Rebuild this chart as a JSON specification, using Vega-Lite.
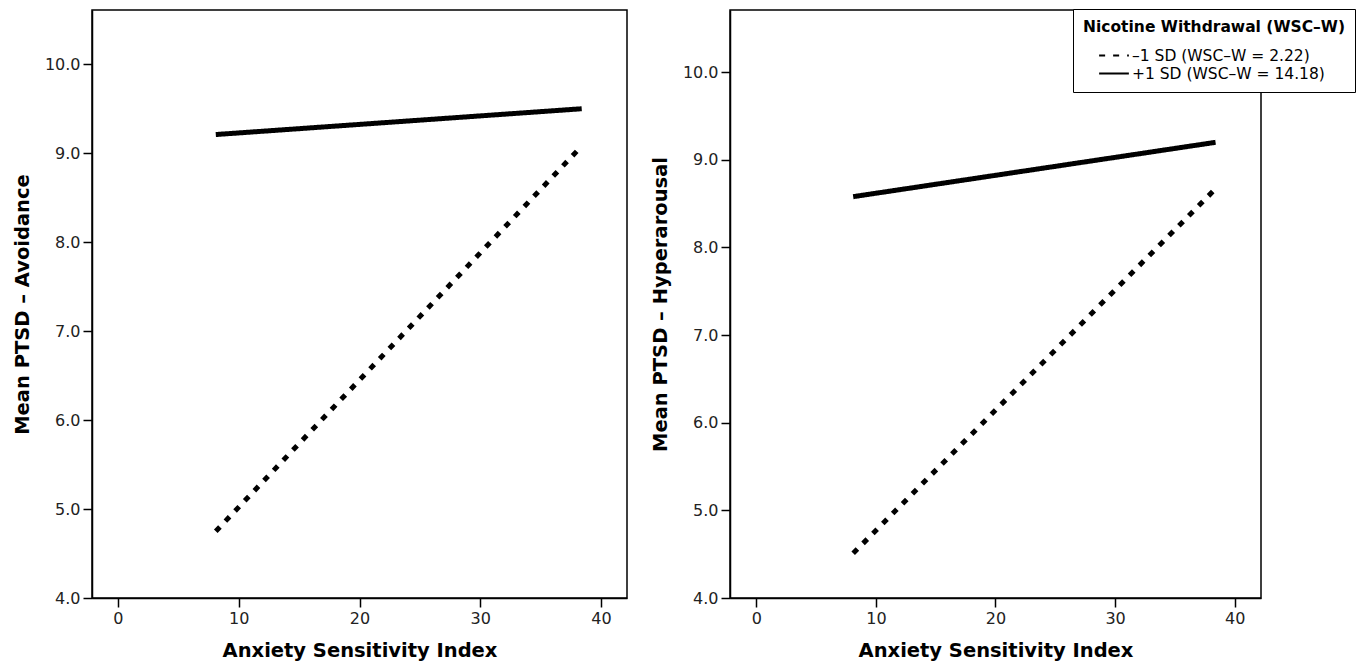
{
  "$schema": "https://vega.github.io/schema/vega-lite/v6.json",
  "padding": {"left": 11, "top": 7, "right": 10, "bottom": 4},
  "config": {
    "font": "DejaVu Sans",
    "view": {"stroke": "black", "strokeWidth": 1.5},
    "axis": {
      "grid": false,
      "domainColor": "black",
      "domainWidth": 1.5,
      "tickColor": "black",
      "tickWidth": 1.5,
      "tickSize": 9,
      "labelFontSize": 16,
      "labelColor": "#222",
      "labelPadding": 3,
      "titleFontSize": 19.5,
      "titleFontWeight": "bold",
      "titleColor": "black"
    }
  },
  "data": {
    "values": [
      {"panel": "Avoidance", "group": "–1 SD (WSC–W = 2.22)", "asi": 8.1, "ptsd": 4.75},
      {"panel": "Avoidance", "group": "–1 SD (WSC–W = 2.22)", "asi": 38.4, "ptsd": 9.08},
      {"panel": "Avoidance", "group": "+1 SD (WSC–W = 14.18)", "asi": 8.1, "ptsd": 9.21},
      {"panel": "Avoidance", "group": "+1 SD (WSC–W = 14.18)", "asi": 38.4, "ptsd": 9.5},
      {"panel": "Hyperarousal", "group": "–1 SD (WSC–W = 2.22)", "asi": 8.1, "ptsd": 4.51},
      {"panel": "Hyperarousal", "group": "–1 SD (WSC–W = 2.22)", "asi": 38.4, "ptsd": 8.67},
      {"panel": "Hyperarousal", "group": "+1 SD (WSC–W = 14.18)", "asi": 8.1, "ptsd": 8.58},
      {"panel": "Hyperarousal", "group": "+1 SD (WSC–W = 14.18)", "asi": 38.4, "ptsd": 9.2}
    ]
  },
  "spacing": 21,
  "align": "none",
  "resolve": {"scale": {"strokeDash": "independent"}, "legend": {"strokeDash": "independent"}},
  "hconcat": [
    {
      "width": 535,
      "height": 588,
      "transform": [{"filter": "datum.panel === 'Avoidance'"}],
      "mark": {"type": "line", "color": "black", "strokeWidth": 5, "strokeCap": "butt"},
      "encoding": {
        "x": {"field": "asi", "type": "quantitative", "scale": {"domain": [-2.15, 42.15], "nice": false, "zero": false},
              "axis": {"values": [0, 10, 20, 30, 40], "title": "Anxiety Sensitivity Index", "titlePadding": 15}},
        "y": {"field": "ptsd", "type": "quantitative", "scale": {"domain": [4, 10.61], "nice": false, "zero": false},
              "axis": {"values": [4, 5, 6, 7, 8, 9, 10], "format": ".1f", "title": "Mean PTSD – Avoidance", "titlePadding": 12}},
        "strokeDash": {"field": "group", "type": "nominal",
          "scale": {"domain": ["–1 SD (WSC–W = 2.22)", "+1 SD (WSC–W = 14.18)"], "range": [[6, 8], [1, 0]]},
          "legend": null},
        "detail": {"field": "group"}
      }
    },
    {
      "width": 531,
      "height": 588,
      "transform": [{"filter": "datum.panel === 'Hyperarousal'"}],
      "mark": {"type": "line", "color": "black", "strokeWidth": 5, "strokeCap": "butt"},
      "encoding": {
        "x": {"field": "asi", "type": "quantitative", "scale": {"domain": [-2.2, 42.2], "nice": false, "zero": false},
              "axis": {"values": [0, 10, 20, 30, 40], "title": "Anxiety Sensitivity Index", "titlePadding": 15}},
        "y": {"field": "ptsd", "type": "quantitative", "scale": {"domain": [4, 10.71], "nice": false, "zero": false},
              "axis": {"values": [4, 5, 6, 7, 8, 9, 10], "format": ".1f", "title": "Mean PTSD – Hyperarousal", "titlePadding": 12}},
        "strokeDash": {"field": "group", "type": "nominal",
          "scale": {"domain": ["–1 SD (WSC–W = 2.22)", "+1 SD (WSC–W = 14.18)"], "range": [[6, 8], [1, 0]]},
          "legend": {
            "orient": "none", "legendX": 343, "legendY": -1,
            "title": "Nicotine Withdrawal (WSC–W)",
            "titleFontSize": 15.5, "titleFontWeight": "bold", "titleColor": "black", "titlePadding": 11.5, "titleLimit": 500,
            "titleBaseline": "line-top", "titleLineHeight": 18,
            "labelFontSize": 15.5, "labelColor": "black", "labelOffset": 8.5, "labelLimit": 500,
            "symbolType": "M-1.75,0H1.75", "symbolSize": 289, "symbolStrokeWidth": 2, "symbolStrokeColor": "black",
            "symbolFillColor": "transparent", "symbolOffset": 21.5,
            "fillColor": "white", "strokeColor": "black", "padding": 10, "rowPadding": 0
          }},
        "detail": {"field": "group"}
      }
    }
  ]
}
